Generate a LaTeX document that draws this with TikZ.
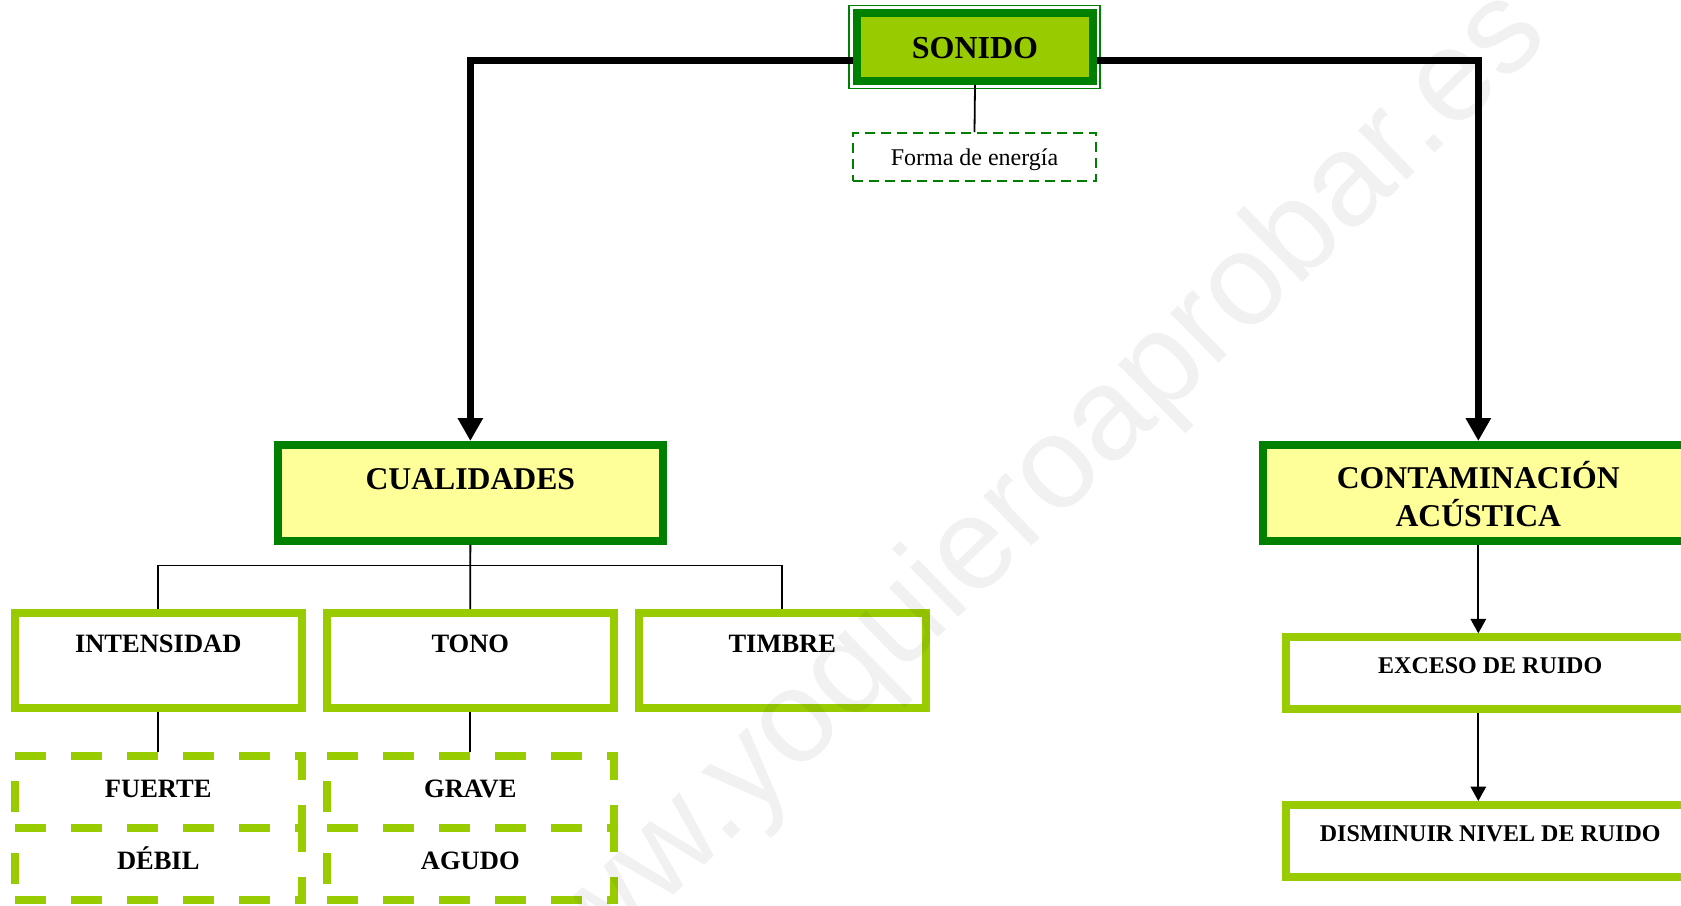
\documentclass[tikz,border=0pt]{standalone}
\usepackage{fontspec}
\setmainfont{Liberation Serif}
\newfontfamily\wmfont{Liberation Sans}
\usetikzlibrary{arrows.meta}
\definecolor{dkgreen}{HTML}{008000}
\definecolor{limegr}{HTML}{99CC00}
\definecolor{ylw}{HTML}{FFFF99}
\begin{document}
\begin{tikzpicture}[x=1pt,y=-1pt,
  topbox/.style={draw=dkgreen, fill=limegr, line width=8pt, inner sep=0pt,
    font=\bfseries\fontsize{32}{36}\selectfont},
  notebox/.style={draw=dkgreen, line width=1.8pt, dash pattern=on 10pt off 6pt,
    inner sep=0pt, font=\fontsize{24}{28}\selectfont},
  mainbox/.style={draw=dkgreen, fill=ylw, line width=8pt, inner sep=0pt,
    font=\bfseries\fontsize{31.7}{36.7}\selectfont},
  subbox/.style={draw=limegr, fill=white, line width=8pt, inner sep=0pt,
    minimum width=287.5pt, text height=39.5pt, text depth=55.8pt,
    font=\bfseries\fontsize{26.5}{30}\selectfont},
  valbox/.style={draw=limegr, line width=8pt, dash pattern=on 31pt off 25pt,
    inner sep=0pt, minimum width=287.5pt, text height=41pt, text depth=31pt,
    font=\bfseries\fontsize{26.5}{30}\selectfont},
  rbox/.style={draw=limegr, fill=white, line width=8pt, inner sep=0pt,
    minimum width=407.8pt, text height=36pt, text depth=35.6pt,
    font=\bfseries\fontsize{24}{28}\selectfont},
  bigarrow/.style={line width=7.5pt, -{Triangle[length=23pt,width=24pt]}},
  thinarrow/.style={line width=1.9pt, -{Triangle[length=14.5pt,width=15.5pt]}},
  conn/.style={line width=1.8pt}
]
\useasboundingbox (0,0) rectangle (1681,905);
\clip (0,0) rectangle (1681,905);

% top node
\node[topbox, minimum width=236pt, text height=45.3pt, text depth=22.7pt, anchor=base]
  (sonido) at (975,58.3) {SONIDO};
\draw[dkgreen, line width=1.7pt] ([shift={(-4,-3.5)}]sonido.north west) rectangle ([shift={(3,3.5)}]sonido.south east);

\node[notebox, minimum width=243pt, text height=32.7pt, text depth=15.3pt, anchor=base]
  (forma) at (974.5,165.7) {Forma de energía};
\draw[conn] (sonido.south) -- (forma.north);

% main boxes
\node[mainbox, minimum width=384.7pt, text height=44.3pt, text depth=51.4pt, anchor=base]
  (cual) at (470.35,489.3) {CUALIDADES};
\node[mainbox, minimum width=431.2pt, text height=43.3pt, text depth=52.4pt, anchor=base]
  (cont) at (1478.3,488.3) {\begin{tabular}[t]{@{}c@{}}CONTAMINACIÓN\\ACÚSTICA\end{tabular}};

\draw[bigarrow] ([yshift=-13.5pt]sonido.west) -| (cual.north);
\draw[bigarrow] ([yshift=-13.5pt]sonido.east) -| (cont.north);

% qualities
\node[subbox, anchor=base] (intens) at (158.25,652.5) {INTENSIDAD};
\node[subbox, anchor=base] (tono) at (470.3,652.5) {TONO};
\node[subbox, anchor=base] (timbre) at (782.3,652.5) {TIMBRE};

\coordinate (bus) at (470.3,565.5);
\draw[conn] (cual.south) -- (tono.north);
\draw[conn] (intens.north) |- (bus) -| (timbre.north);

\node[valbox, anchor=base] (fuerte) at (158.25,797) {FUERTE};
\node[valbox, anchor=base] (debil) at (158.25,869) {DÉBIL};
\node[valbox, anchor=base] (grave) at (470.3,797) {GRAVE};
\node[valbox, anchor=base] (agudo) at (470.3,869) {AGUDO};

\draw[conn] (intens.south) -- (fuerte.north);
\draw[conn] (tono.south) -- (grave.north);

% right branch
\node[rbox, anchor=base] (exceso) at (1490.2,673.3) {EXCESO DE RUIDO};
\node[rbox, anchor=base] (dismin) at (1490.2,841) {DISMINUIR NIVEL DE RUIDO};

\draw[thinarrow] (cont.south) -- (cont.south |- exceso.north);
\draw[thinarrow] (cont.south |- exceso.south) -- (cont.south |- dismin.north);

% watermark
\node[rotate=44.3, anchor=base west, inner sep=0pt, text=black, opacity=0.055,
  font=\wmfont\fontsize{131}{131}\selectfont] (wm) at (525,1040.8) {www.yoquieroaprobar.es};
\end{tikzpicture}
\end{document}
